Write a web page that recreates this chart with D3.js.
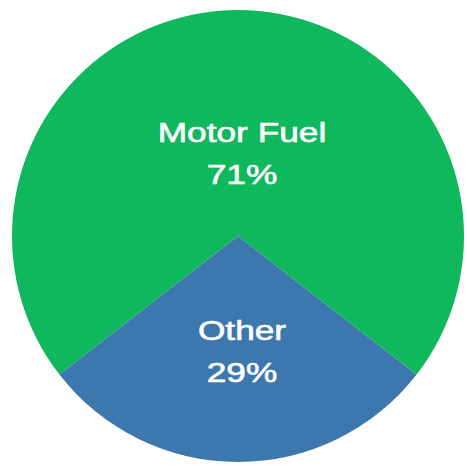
<!DOCTYPE html>
<html>
<head>
<meta charset="utf-8">
<script src="https://cdn.jsdelivr.net/npm/d3@7"></script>
<style>
  body { margin: 0; background: #fff; }
  svg { display: block; }
</style>
</head>
<body>
<script>
// chart data
const categories = ["Other", "Motor Fuel"];
const shares = [29, 71];
const pctLabels = ["29%", "71%"];
const colors = ["#3c77ae", "#0fb75d"];

const width = 467;
const height = 470;
const cx = 238, cy = 236, r = 226;

const svg = d3.select("body").append("svg")
    .attr("width", width)
    .attr("height", height);

const data = categories.map((c, i) => ({ name: c, value: shares[i], pct: pctLabels[i], color: colors[i] }));

// Other slice sits centred at the bottom
const pie = d3.pie()
    .sort(null)
    .value(d => d.value)
    .startAngle(Math.PI * (1 - shares[0] / 100))
    .endAngle(Math.PI * (3 - shares[0] / 100));

const arc = d3.arc().innerRadius(0).outerRadius(r);

const g = svg.append("g").attr("transform", `translate(${cx},${cy})`);

const arcs = pie(data);

g.selectAll("path")
    .data(arcs)
    .enter()
    .append("path")
    .attr("d", arc)
    .attr("fill", d => d.data.color);

function labelPos(d) {
    let lr = d.data.name == "Other" ? 124 : 74;
    let a = (d.startAngle + d.endAngle) / 2;
    return [Math.sin(a) * lr + 4, -Math.cos(a) * lr];
}

const labels = g.selectAll("text")
    .data(arcs)
    .enter()
    .append("text")
    .attr("transform", d => {
        let p = labelPos(d);
        return `translate(${p[0]},${p[1]}) scale(1.26,1)`;
    })
    .attr("text-anchor", "middle")
    .attr("fill", "#ffffff")
    .attr("stroke", "#ffffff")
    .attr("stroke-width", 0.6)
    .style("font-family", "'Liberation Sans', Arial, sans-serif")
    .style("font-size", "28px");

labels.append("tspan").attr("x", 0).attr("y", -20).text(d => d.data.name);
labels.append("tspan").attr("x", 0).attr("y", 22).text(d => d.data.pct);
</script>
</body>
</html>
